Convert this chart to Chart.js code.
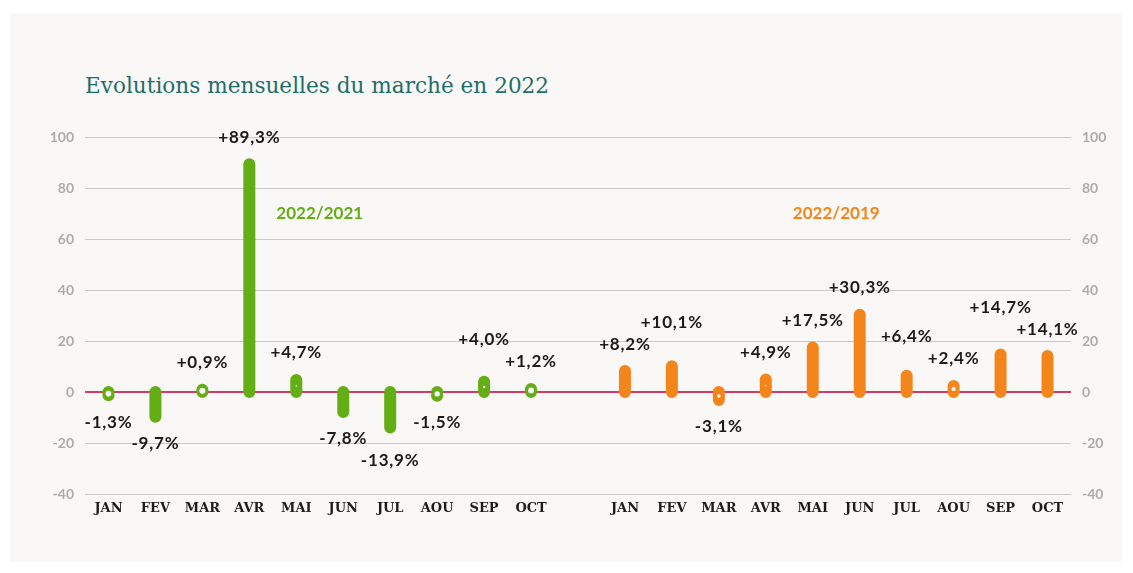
<!DOCTYPE html>
<html>
<head>
<meta charset="utf-8">
<script src="https://cdn.jsdelivr.net/npm/chart.js@4/dist/chart.umd.min.js"></script>
<style>
    html, body { margin: 0; padding: 0; background: #ffffff; }
    #panel { position: absolute; left: 10px; top: 13px; width: 1112px; height: 549px; background: #f9f8f6; }
    #title { position: absolute; left: 85px; top: 73px; font-family: "DejaVu Serif", serif; font-size: 21.6px; line-height: 26px; color: #1f6e6b; white-space: nowrap; }
    #wrap { position: absolute; left: 0; top: 0; width: 1133px; height: 573px; }
</style>
</head>
<body>
<div id="panel"></div>
<div id="title">Evolutions mensuelles du marché en 2022</div>
<div id="wrap"><canvas id="marketChart" width="1133" height="573"></canvas></div>
<script>
const months = ['JAN', 'FEV', 'MAR', 'AVR', 'MAI', 'JUN', 'JUL', 'AOU', 'SEP', 'OCT'];
const categories = [...months, '', ...months];
const vs2021 = [-1.3, -9.7, 0.9, 89.3, 4.7, -7.8, -13.9, -1.5, 4.0, 1.2];
const vs2019 = [8.2, 10.1, -3.1, 4.9, 17.5, 30.3, 6.4, 2.4, 14.7, 14.1];
const seriesNames = ['2022/2021', '2022/2019'];
const yMin = -40, yMax = 100, yStep = 20;

const GREEN = '#63ad15';
const ORANGE = '#f3851a';
const start2019 = months.length + 1;

// each bar = one line segment from 0 to the value, with round caps
function toSegments(values, start) {
    const pts = [];
    values.forEach((v, i) => {
        pts.push({ x: start + i, y: 0 }, { x: start + i, y: v }, { x: start + i, y: null });
    });
    return pts;
}

// small light hole in the middle of the short bars
function toHoles(values, start) {
    return values.map((v, i) => ({ x: start + i, y: Math.abs(v) < 5 ? v / 2 : null, v: v }));
}

function formatPct(v) {
    return (v > 0 ? '+' : '') + v.toFixed(1).replace('.', ',') + '%';
}

const labelPlugin = {
    id: 'valueLabels',
    afterDraw(chart) {
        const ctx = chart.ctx;
        const xs = chart.scales.x;
        const ys = chart.scales.y;
        ctx.save();
        ctx.textAlign = 'center';
        ctx.textBaseline = 'middle';
        ctx.font = 'bold 17px Lato';
        ctx.letterSpacing = '0.8px';
        ctx.fillStyle = '#1b1b1b';
        [[vs2021, 0], [vs2019, start2019]].forEach(([values, start]) => {
            const labels = values.map((v, i) => {
                const text = formatPct(v);
                const y = ys.getPixelForValue(v);
                return {
                    v: v,
                    text: text,
                    x: xs.getPixelForValue(start + i),
                    y: v >= 0 ? y - 27 : y + 27,
                    w: ctx.measureText(text).width
                };
            });
            // push the bigger neighbour away when two labels collide
            for (let i = 1; i < labels.length; i++) {
                const a = labels[i - 1], b = labels[i];
                if ((a.v >= 0) !== (b.v >= 0)) continue;
                const overlapX = Math.abs(b.x - a.x) < (a.w + b.w) / 2 + 2;
                if (!overlapX || Math.abs(b.y - a.y) >= 20) continue;
                if (a.v >= 0) {
                    if (b.v > a.v) b.y = a.y - 22; else a.y = b.y - 22;
                } else {
                    if (b.v < a.v) b.y = a.y + 22; else a.y = b.y + 22;
                }
            }
            labels.forEach(l => ctx.fillText(l.text, l.x, l.y));
        });
        // series names
        ctx.letterSpacing = '0px';
        ctx.font = 'bold 17px Lato';
        const yName = ys.getPixelForValue(70);
        ctx.fillStyle = GREEN;
        ctx.fillText(seriesNames[0], xs.getPixelForValue(4.5), yName);
        ctx.fillStyle = ORANGE;
        ctx.fillText(seriesNames[1], xs.getPixelForValue(start2019 + 4.5), yName);
        ctx.restore();
    }
};

const tickFont = { family: 'Lato', size: 14, weight: 'bold' };

new Chart(document.getElementById('marketChart'), {
    type: 'line',
    data: {
        datasets: [
            {
                data: toHoles(vs2021, 0).concat(toHoles(vs2019, start2019)),
                showLine: false,
                order: -1,
                pointRadius: c => {
                    const raw = c.raw;
                    if (!raw || raw.y === null) return 0;
                    return Math.max(0, 3.6 - Math.abs(raw.v) * 0.6);
                },
                pointBackgroundColor: '#f9f8f6',
                pointBorderWidth: 0,
                pointHoverRadius: 0
            },
            {
                label: seriesNames[0],
                data: toSegments(vs2021, 0),
                borderColor: GREEN,
                borderWidth: 12,
                borderCapStyle: 'round',
                pointRadius: 0,
                spanGaps: false,
                tension: 0
            },
            {
                label: seriesNames[1],
                data: toSegments(vs2019, start2019),
                borderColor: ORANGE,
                borderWidth: 12,
                borderCapStyle: 'round',
                pointRadius: 0,
                spanGaps: false,
                tension: 0
            }
        ]
    },
    options: {
        responsive: false,
        animation: false,
        events: [],
        layout: { padding: { top: 137, bottom: 49, left: 0, right: 0 } },
        plugins: {
            legend: { display: false },
            tooltip: { enabled: false }
        },
        scales: {
            x: {
                type: 'linear',
                min: -0.5,
                max: categories.length - 0.5,
                grid: { display: false, drawTicks: false },
                border: { display: false },
                afterBuildTicks: scale => {
                    scale.ticks = categories.map((c, i) => ({ value: i }));
                },
                ticks: {
                    padding: 7,
                    maxRotation: 0,
                    autoSkip: false,
                    color: '#1c1c1c',
                    font: { family: '"DejaVu Serif"', size: 13, weight: 'bold' },
                    callback: v => categories[v] || ''
                },
                afterFit: scale => { scale.height = 30; }
            },
            y: {
                position: 'left',
                min: yMin,
                max: yMax,
                z: 1,
                grid: {
                    drawTicks: false,
                    color: c => c.tick.value === 0 ? 'rgba(205, 25, 75, 0.85)' : 'rgba(0, 0, 0, 0.19)',
                    lineWidth: c => c.tick.value === 0 ? 2 : 1
                },
                border: { display: false },
                ticks: { stepSize: yStep, padding: 11, color: '#acacac', font: tickFont },
                afterFit: scale => { scale.width = 85; }
            },
            y2: {
                position: 'right',
                min: yMin,
                max: yMax,
                grid: { display: false, drawTicks: false },
                border: { display: false },
                ticks: { stepSize: yStep, padding: 11, color: '#acacac', font: tickFont },
                afterFit: scale => { scale.width = 62; }
            }
        }
    },
    plugins: [labelPlugin]
});
</script>
</body>
</html>
